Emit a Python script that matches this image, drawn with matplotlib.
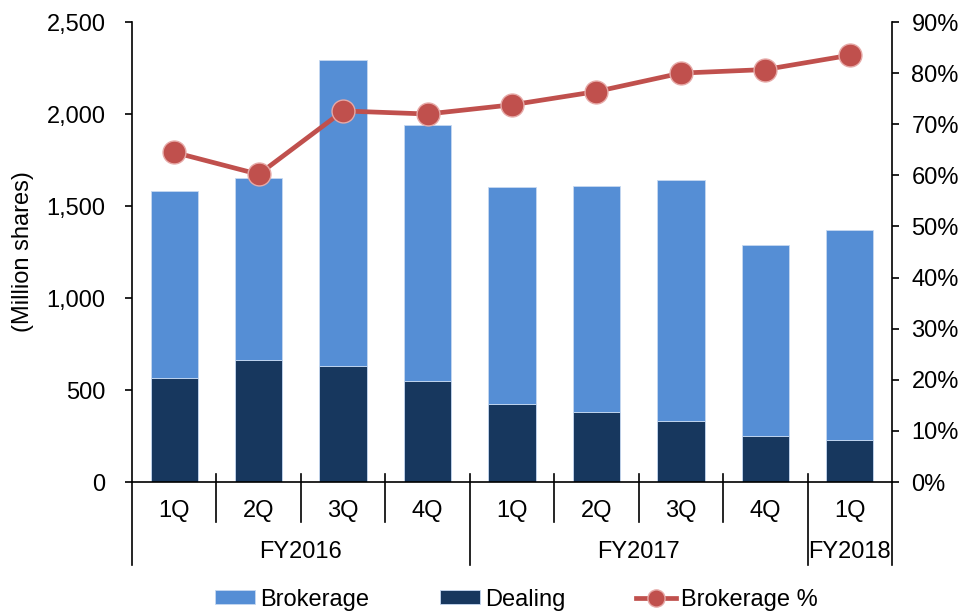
import matplotlib.pyplot as plt
import matplotlib.transforms as mtransforms
from matplotlib.ticker import FuncFormatter

plt.rcParams['font.family'] = ['Liberation Sans', 'DejaVu Sans']

# Quarterly trading volume (million shares)
quarters = ['1Q', '2Q', '3Q', '4Q', '1Q', '2Q', '3Q', '4Q', '1Q']
fiscal_years = ['FY2016', 'FY2017', 'FY2018']
quarters_per_year = [4, 4, 1]
dealing = [567, 663, 630, 551, 422, 382, 333, 252, 230]
brokerage = [1013, 987, 1662, 1388, 1180, 1229, 1310, 1038, 1140]
brokerage_pct = [64.5, 60.2, 72.6, 72.0, 73.8, 76.4, 80.0, 80.7, 83.5]

BROKERAGE_COLOR = '#558ED5'
DEALING_COLOR = '#17375E'
LINE_COLOR = '#C0504D'
FS = 17

fig = plt.figure(figsize=(9.6, 6.13), dpi=100)
ax = fig.add_axes([0.1375, 0.2137, 0.7917, 0.7504])
ax2 = ax.twinx()

x = list(range(len(quarters)))
ax.bar(x, dealing, width=0.56, color=DEALING_COLOR, edgecolor='#c6d9f1',
       linewidth=0.6, label='Dealing', zorder=2)
ax.bar(x, brokerage, width=0.56, bottom=dealing, color=BROKERAGE_COLOR,
       edgecolor='#c6d9f1', linewidth=0.6, label='Brokerage', zorder=2)

ax2.plot(x, brokerage_pct, color=LINE_COLOR, linewidth=3.4, marker='o',
         markersize=16.5, markeredgecolor='#e6a9a7', markeredgewidth=1.0,
         label='Brokerage %', zorder=3)

ax.set_xlim(-0.5, len(quarters) - 0.5)
ax.set_ylim(0, 2500)
ax.set_yticks(range(0, 2501, 500))
ax.yaxis.set_major_formatter(FuncFormatter(lambda v, p: f'{int(v):,}'))
ax2.set_ylim(0, 90)
ax2.set_yticks(range(0, 91, 10))
ax2.yaxis.set_major_formatter(FuncFormatter(lambda v, p: f'{int(v)}%'))

ax.set_ylabel('(Million shares)', fontsize=FS, labelpad=9)

for a in (ax, ax2):
    a.spines['top'].set_visible(False)
    a.tick_params(axis='y', direction='out', length=5, width=1.2,
                  labelsize=FS, color='black')
ax.spines['right'].set_visible(False)
ax2.spines['left'].set_visible(False)
ax.spines['left'].set_linewidth(1.2)
ax2.spines['right'].set_linewidth(1.2)
ax.spines['bottom'].set_linewidth(1.2)
ax2.spines['bottom'].set_visible(False)
ax.tick_params(axis='y', pad=14)
ax2.tick_params(axis='y', pad=9)

# two-level category axis drawn by hand
ax.set_xticks([])
trans = mtransforms.blended_transform_factory(ax.transData, ax.transAxes)
y_in = 8 / 460       # separators poke a little above the baseline
y_q = -40 / 460      # bottom of the quarter row
y_fy = -83 / 460     # bottom of the fiscal-year row
y_q_text = -29 / 460
y_fy_text = -70 / 460

for i, q in enumerate(quarters):
    ax.text(i, y_q_text, q, transform=trans, ha='center', va='center',
            fontsize=FS)

edges = [-0.5]
for n in quarters_per_year:
    edges.append(edges[-1] + n)
for i in range(len(quarters) + 1):
    xe = i - 0.5
    bottom = y_fy if xe in edges else y_q
    ax.plot([xe, xe], [y_in if 0 < i < len(quarters) else 0, bottom],
            transform=trans, color='black', linewidth=1.2, clip_on=False)
for fy, lo, hi in zip(fiscal_years, edges[:-1], edges[1:]):
    ax.text((lo + hi) / 2, y_fy_text, fy, transform=trans, ha='center',
            va='center', fontsize=FS)

handles = [ax.containers[1], ax.containers[0], ax2.lines[0]]
labels = ['Brokerage', 'Dealing', 'Brokerage %']
fig.legend(handles, labels, loc='center', bbox_to_anchor=(0.538, 0.022),
           ncol=3, frameon=False, fontsize=FS, handlelength=1.7,
           handleheight=0.5, handletextpad=0.2, columnspacing=3.0,
           markerscale=0.75, borderpad=0.1)

fig.savefig('out.png', dpi=100)
